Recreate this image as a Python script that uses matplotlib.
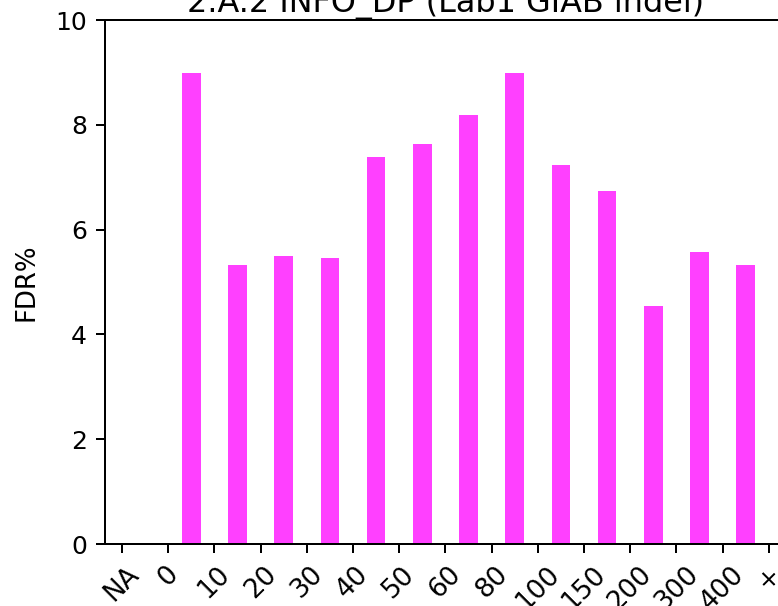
import numpy as np
import matplotlib
matplotlib.use("Agg")
import matplotlib.pyplot as plt

# bin edges (tick labels) and FDR% per bin
edges = ["NA", "0", "10", "20", "30", "40", "50", "60", "80",
         "100", "150", "200", "300", "400", "+"]
fdr = [0.0, 8.98, 5.32, 5.50, 5.45, 7.38, 7.64, 8.18, 8.98,
       7.24, 6.73, 4.55, 5.58, 5.32]

dpi = 180
fig = plt.figure(figsize=(778 / dpi, 606 / dpi), dpi=dpi)
ax = fig.add_axes([104.5 / 778, 62 / 606, 681.8 / 778, 524 / 606])

x = np.arange(len(fdr)) + 0.5
ax.bar(x, fdr, width=0.4, color="#ff40ff", linewidth=0)

ax.set_xticks(np.arange(len(edges)))
ax.set_xticklabels(edges, rotation=45)
ax.set_xlim(-0.378, len(edges) - 1 + 0.378)
ax.set_ylim(0, 10)
ax.set_yticks([0, 2, 4, 6, 8, 10])
ax.tick_params(axis="x", labelsize=10.5)

ax.set_ylabel("FDR%", fontsize=10.4, labelpad=6.5)
ax.set_title("2.A.2 INFO_DP (Lab1 GIAB indel)", fontsize=12.75, pad=3)

fig.savefig("out.png", dpi=dpi)
